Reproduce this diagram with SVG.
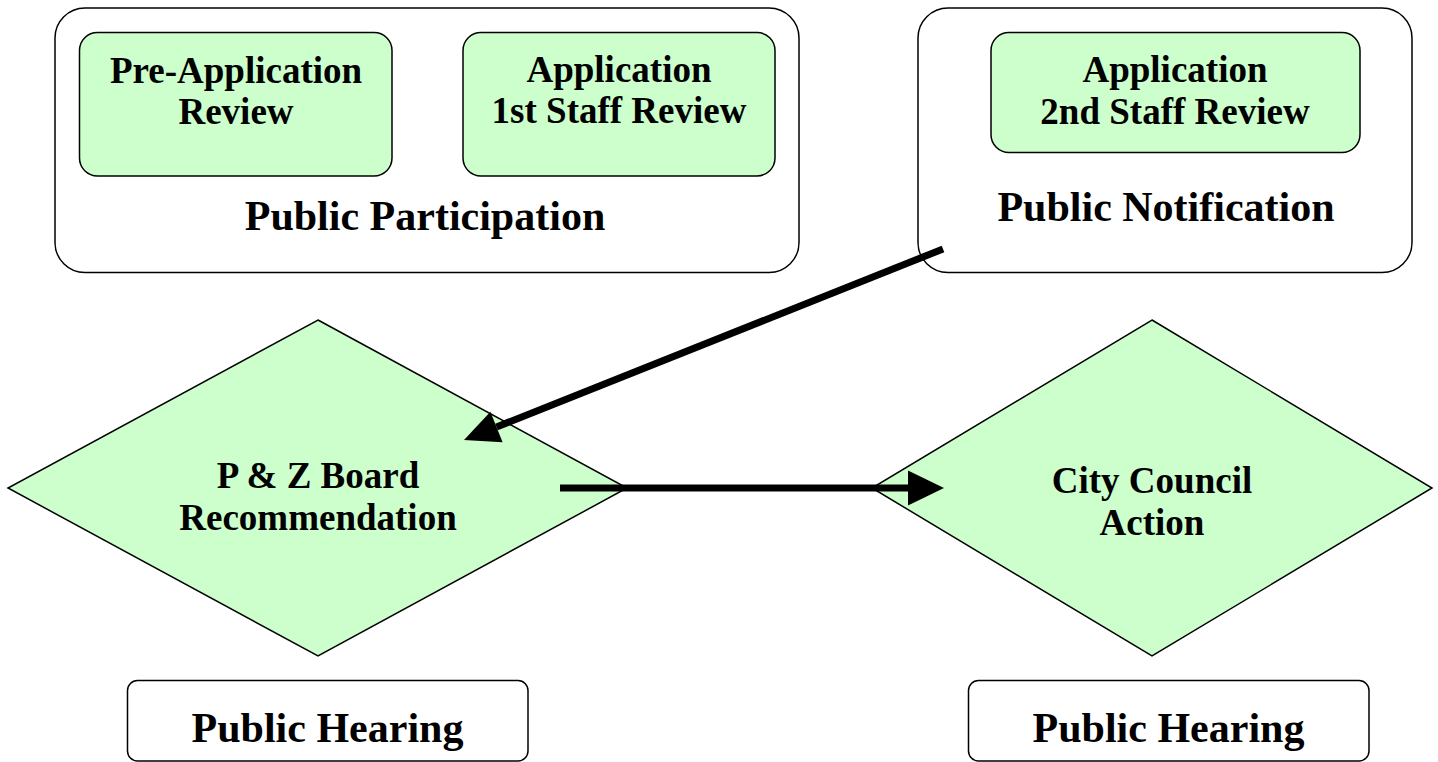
<svg xmlns="http://www.w3.org/2000/svg" width="1438" height="762" viewBox="0 0 1438 762">
  <style>
    .outer { fill: #ffffff; stroke: #000000; stroke-width: 1.5; }
    .inner { fill: #ccffcc; stroke: #000000; stroke-width: 1.5; }
    .dia { fill: #ccffcc; stroke: #000000; stroke-width: 1.5; }
    .t37 { font-family: "Liberation Serif", "Times New Roman", serif; font-weight: bold; font-size: 37px; fill: #000000; text-anchor: middle; }
    .t42 { font-family: "Liberation Serif", "Times New Roman", serif; font-weight: bold; font-size: 42px; fill: #000000; text-anchor: middle; }
    .conn { stroke: #000000; stroke-width: 7; fill: none; stroke-linecap: butt; }
    .head { fill: #000000; stroke: none; }
  </style>
  <rect width="1438" height="762" fill="#ffffff"/>

  <g id="public-participation">
    <rect class="outer" x="55" y="8" width="744" height="264.5" rx="30" ry="30"/>
    <text class="t42" x="425" y="230">Public Participation</text>
  </g>
  <g id="pre-application-review">
    <rect class="inner" x="79.5" y="32.5" width="312.5" height="143.5" rx="18" ry="18"/>
    <text class="t37" x="236" y="83">Pre-Application</text>
    <text class="t37" x="236" y="124">Review</text>
  </g>
  <g id="application-1st-staff-review">
    <rect class="inner" x="463" y="32.5" width="312" height="143.5" rx="18" ry="18"/>
    <text class="t37" x="619" y="82">Application</text>
    <text class="t37" x="619" y="123">1st Staff Review</text>
  </g>

  <g id="public-notification">
    <rect class="outer" x="918" y="8" width="494" height="264.5" rx="30" ry="30"/>
    <text class="t42" x="1166" y="221">Public Notification</text>
  </g>
  <g id="application-2nd-staff-review">
    <rect class="inner" x="991" y="32.5" width="369" height="120" rx="18" ry="18"/>
    <text class="t37" x="1175" y="82">Application</text>
    <text class="t37" x="1175" y="124">2nd Staff Review</text>
  </g>

  <g id="pz-board-recommendation">
    <polygon class="dia" points="318,320 627,488 318,656 8,488"/>
    <text class="t37" x="318" y="488">P &amp; Z Board</text>
    <text class="t37" x="318" y="530">Recommendation</text>
  </g>
  <g id="city-council-action">
    <polygon class="dia" points="1152,320 1432,488 1152,656 872,488"/>
    <text class="t37" x="1152" y="493">City Council</text>
    <text class="t37" x="1152" y="535">Action</text>
  </g>

  <g id="public-hearing-1">
    <rect class="outer" x="127.5" y="680.5" width="400.5" height="80.5" rx="10" ry="10"/>
    <text class="t42" x="327.5" y="742">Public Hearing</text>
  </g>
  <g id="public-hearing-2">
    <rect class="outer" x="968.5" y="680.5" width="400.5" height="80.5" rx="10" ry="10"/>
    <text class="t42" x="1168.5" y="742">Public Hearing</text>
  </g>

  <g id="connectors">
    <line class="conn" x1="943" y1="249" x2="496.5" y2="427"/>
    <polygon class="head" points="464,440 490.4,411.7 502.6,442.3"/>
    <line class="conn" x1="560" y1="488" x2="910" y2="488"/>
    <polygon class="head" points="944,488 908,470.5 908,505.5"/>
  </g>
</svg>
